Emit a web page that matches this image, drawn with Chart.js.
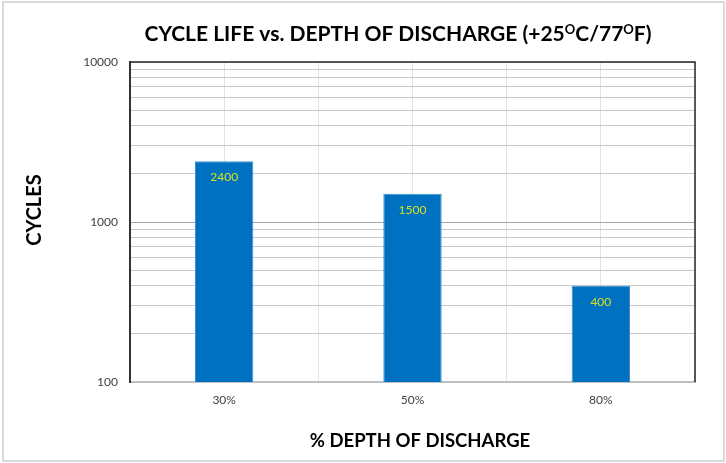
<!DOCTYPE html>
<html>
<head>
<meta charset="utf-8">
<script src="https://cdn.jsdelivr.net/npm/chart.js@4.4.1/dist/chart.umd.min.js"></script>
<style>
  body { margin: 0; background: #fff; }
  canvas { display: block; }
</style>
</head>
<body>
<canvas id="cycleChart" width="726" height="463"></canvas>
<script>
// chart data
const depthLabels = ["30%", "50%", "80%"];
const cycleValues = [2400, 1500, 400];
const yGridValues = [100, 200, 300, 400, 500, 600, 700, 800, 900,
                     1000, 2000, 3000, 4000, 5000, 6000, 7000, 8000, 9000, 10000];
const yTickLabels = [100, 1000, 10000];
const xAxisTitle = "% DEPTH OF DISCHARGE";
const yAxisTitle = "CYCLES";
// title text, "O" parts are raised like a degree sign
const titleParts = [
  { text: "CYCLE LIFE vs. DEPTH OF DISCHARGE (+25" },
  { text: "O", sup: true },
  { text: "C/77" },
  { text: "O", sup: true },
  { text: "F)" }
];

const FONT = "Lato, 'Open Sans', sans-serif";

// draws the titles, the frame and the bar labels
const extrasPlugin = {
  id: 'extras',
  afterDatasetsDraw(chart) {
    const ctx = chart.ctx;
    const area = chart.chartArea;
    ctx.save();

    // dark top and right edge of the plot area
    ctx.strokeStyle = '#262626';
    ctx.lineWidth = 1.5;
    ctx.beginPath();
    ctx.moveTo(area.left, area.top);
    ctx.lineTo(area.right, area.top);
    ctx.lineTo(area.right, area.bottom);
    ctx.stroke();

    // value labels inside the bars
    ctx.fillStyle = '#d4e21e';
    ctx.font = '12px ' + FONT;
    ctx.textAlign = 'center';
    ctx.textBaseline = 'middle';
    chart.getDatasetMeta(0).data.forEach((bar, i) => {
      ctx.fillText(String(cycleValues[i]), bar.x, bar.y + 16);
    });

    // axis titles
    ctx.fillStyle = '#000';
    ctx.font = 'bold 18.5px ' + FONT;
    ctx.fillText(xAxisTitle, 420, 441);
    ctx.save();
    ctx.translate(35, 210);
    ctx.rotate(-Math.PI / 2);
    ctx.font = 'bold 20px ' + FONT;
    ctx.fillText(yAxisTitle, 0, 0);
    ctx.restore();

    // chart title
    const bigFont = 'bold 21px ' + FONT;
    const smallFont = 'bold 13px ' + FONT;
    let total = 0;
    titleParts.forEach(p => {
      ctx.font = p.sup ? smallFont : bigFont;
      p.w = ctx.measureText(p.text).width;
      total += p.w;
    });
    let x = 398 - total / 2;
    ctx.textAlign = 'left';
    ctx.textBaseline = 'alphabetic';
    titleParts.forEach(p => {
      ctx.font = p.sup ? smallFont : bigFont;
      ctx.fillText(p.text, x, p.sup ? 34 : 41);
      x += p.w;
    });

    // light outer frame
    ctx.strokeStyle = '#d9d9d9';
    ctx.lineWidth = 2;
    ctx.strokeRect(3, 2, 721, 459);
    ctx.restore();
  }
};

const ctx = document.getElementById('cycleChart').getContext('2d');
new Chart(ctx, {
  type: 'bar',
  data: {
    labels: depthLabels,
    datasets: [{
      data: cycleValues,
      backgroundColor: '#0070c0',
      borderColor: '#3a8fd0',
      borderWidth: 1,
      categoryPercentage: 1,
      barPercentage: 0.31
    }]
  },
  options: {
    responsive: false,
    animation: false,
    layout: { padding: { left: 0, right: 31, top: 62, bottom: 0 } },
    plugins: {
      legend: { display: false },
      title: { display: false },
      tooltip: { enabled: false }
    },
    scales: {
      x: {
        z: -1,
        grid: { color: '#e3e3e3', drawTicks: false },
        border: { color: '#bfbfbf', width: 2 },
        ticks: { color: '#404040', font: { family: FONT, size: 12 }, padding: 11 },
        afterFit(scale) { scale.height = 81; }
      },
      xCenter: {
        type: 'category',
        labels: depthLabels,
        position: 'bottom',
        offset: true,
        z: -1,
        grid: { offset: false, color: '#e3e3e3', drawTicks: false },
        border: { display: false },
        ticks: { display: false },
        afterFit(scale) { scale.height = 0; }
      },
      y: {
        type: 'logarithmic',
        min: 100,
        max: 10000,
        afterBuildTicks(scale) {
          scale.ticks = yGridValues.map(v => ({ value: v, major: yTickLabels.includes(v) }));
        },
        grid: {
          drawTicks: false,
          lineWidth: 1,
          color: c => {
            if (!c.tick) return '#c8c8c8';
            if (c.tick.value === 100) return 'rgba(0,0,0,0)';
            return c.tick.value === 1000 ? '#a6a6a6' : '#c8c8c8';
          }
        },
        border: { color: '#333', width: 2 },
        ticks: {
          autoSkip: false,
          color: '#404040',
          font: { family: FONT, size: 12 },
          padding: 12,
          callback: v => yTickLabels.includes(v) ? String(v) : ''
        },
        afterFit(scale) { scale.width = 130; }
      }
    }
  },
  plugins: [extrasPlugin]
});
</script>
</body>
</html>
